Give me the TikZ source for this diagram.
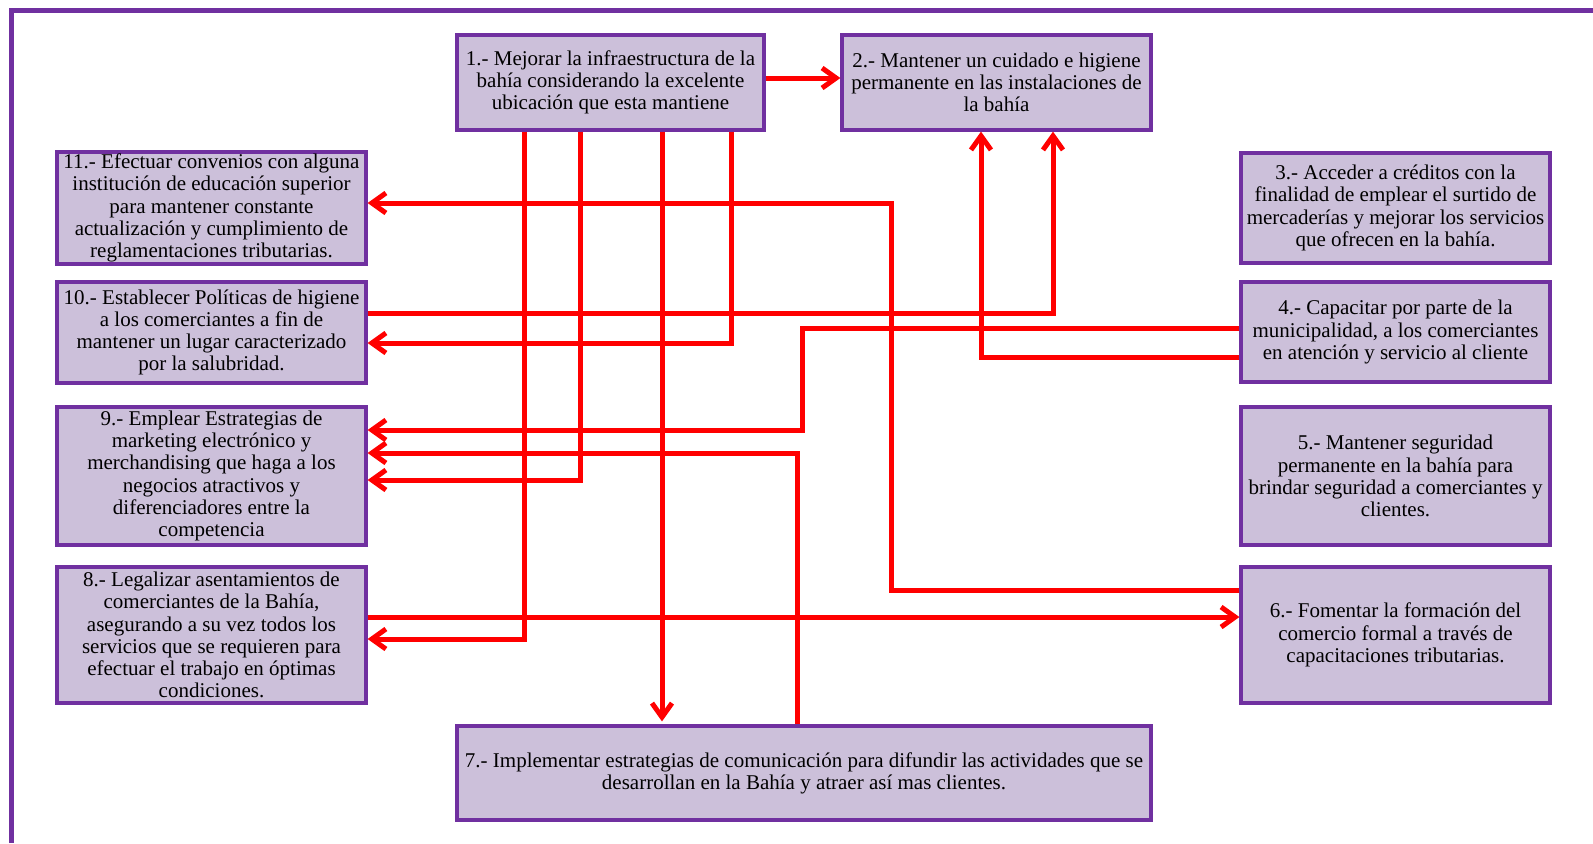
\documentclass[tikz,border=0pt]{standalone}
\usepackage{fontspec}
\setmainfont{Liberation Serif}
\usetikzlibrary{arrows.meta}
\definecolor{boxfill}{RGB}{204,192,218}
\definecolor{boxline}{RGB}{112,48,160}
\tikzstyle{obj} = [rectangle, minimum width=154.5pt, inner xsep=1pt, inner ysep=1pt, align=center, draw=boxline, line width=1.6pt, fill=boxfill, font=\fontsize{10.5}{11.1}\selectfont]
\tikzstyle{arrow} = [red, line width=2.5pt, ->, >={Straight Barb[length=7pt,width=10pt]}]
\begin{document}
\begin{tikzpicture}[x=0.5pt,y=-0.5pt]
\useasboundingbox (0,0) rectangle (1593,843);
\draw[boxline,line width=2.5pt] (11,843)--(11,10)--(1593,10);

% objetivos
\node[obj, minimum width=153.5pt, minimum height=47.5pt] (b1) at (610.5,82.5) {1.- Mejorar la infraestructura de la\\bahía considerando la excelente\\ubicación que esta mantiene};
\node[obj, minimum height=47.5pt] (b2) at (996.5,82.5) {2.- Mantener un cuidado e higiene\\permanente en las instalaciones de\\la bahía};
\node[obj, minimum height=55pt] (b3) at (1395.5,208) {3.- Acceder a créditos con la\\finalidad de emplear el surtido de\\mercaderías y mejorar los servicios\\que ofrecen en la bahía.};
\node[obj, minimum height=50pt] (b4) at (1395.5,332) {4.- Capacitar por parte de la\\municipalidad, a los comerciantes\\en atención y servicio al cliente};
\node[obj, minimum height=69pt] (b5) at (1395.5,476) {5.- Mantener seguridad\\permanente en la bahía para\\brindar seguridad a comerciantes y\\clientes.};
\node[obj, minimum height=68pt] (b6) at (1395.5,635) {6.- Fomentar la formación del\\comercio formal a través de\\capacitaciones tributarias.};
\node[obj, minimum width=347pt, minimum height=47pt] (b7) at (804,773) {7.- Implementar estrategias de comunicación para difundir las actividades que se\\desarrollan en la Bahía y atraer así mas clientes.};
\node[obj, minimum height=68pt] (b8) at (211.5,635) {8.- Legalizar asentamientos de\\comerciantes de la Bahía,\\asegurando a su vez todos los\\servicios que se requieren para\\efectuar el trabajo en óptimas\\condiciones.};
\node[obj, minimum height=69pt] (b9) at (211.5,476) {9.- Emplear Estrategias de\\marketing electrónico y\\merchandising que haga a los\\negocios atractivos y\\diferenciadores entre la\\competencia};
\node[obj, minimum height=50.5pt] (b10) at (211.5,332.5) {10.- Establecer Políticas de higiene\\a los comerciantes a fin de\\mantener un lugar caracterizado\\por la salubridad.};
\node[obj, minimum height=55pt] (b11) at (211.5,208) {11.- Efectuar convenios con alguna\\institución de educación superior\\para mantener constante\\actualización y cumplimiento de\\reglamentaciones tributarias.};

% carriles
\coordinate (c8) at (524,0);
\coordinate (c9) at (580,0);
\coordinate (c7) at (662,0);
\coordinate (c10) at (731,0);
\coordinate (c74) at (797,0);
\coordinate (c49) at (802,0);
\coordinate (c611) at (891,0);
\coordinate (c42) at (981,0);
\coordinate (c102) at (1053,0);
\coordinate (r12) at (0,78);
\coordinate (r611a) at (0,203);
\coordinate (r102) at (0,313);
\coordinate (r49a) at (0,328);
\coordinate (r10) at (0,343);
\coordinate (r42) at (0,357);
\coordinate (r49b) at (0,430);
\coordinate (r74) at (0,453);
\coordinate (r19) at (0,480);
\coordinate (r611) at (0,590);
\coordinate (r86) at (0,617);
\coordinate (r18) at (0,639);

\draw[arrow] (b1.east |- r12) -- (b2.west |- r12);
\draw[arrow] (b1.south -| c8) |- (b8.east |- r18);
\draw[arrow] (b1.south -| c9) |- (b9.east |- r19);
\draw[arrow, shorten >=1.5pt] (b1.south -| c7) -- (b7.north -| c7);
\draw[arrow] (b1.south -| c10) |- (b10.east |- r10);
\draw[arrow] (b10.east |- r102) -| (b2.south -| c102);
\draw[arrow] (b4.west |- r49a) -| (c49 |- r49b) -- (b9.east |- r49b);
\draw[arrow] (b4.west |- r42) -| (b2.south -| c42);
\draw[arrow] (b7.north -| c74) |- (b9.east |- r74);
\draw[arrow] (b8.east |- r86) -- (b6.west |- r86);
\draw[arrow] (b6.west |- r611) -| (c611 |- r611a) -- (b11.east |- r611a);

\end{tikzpicture}
\end{document}
